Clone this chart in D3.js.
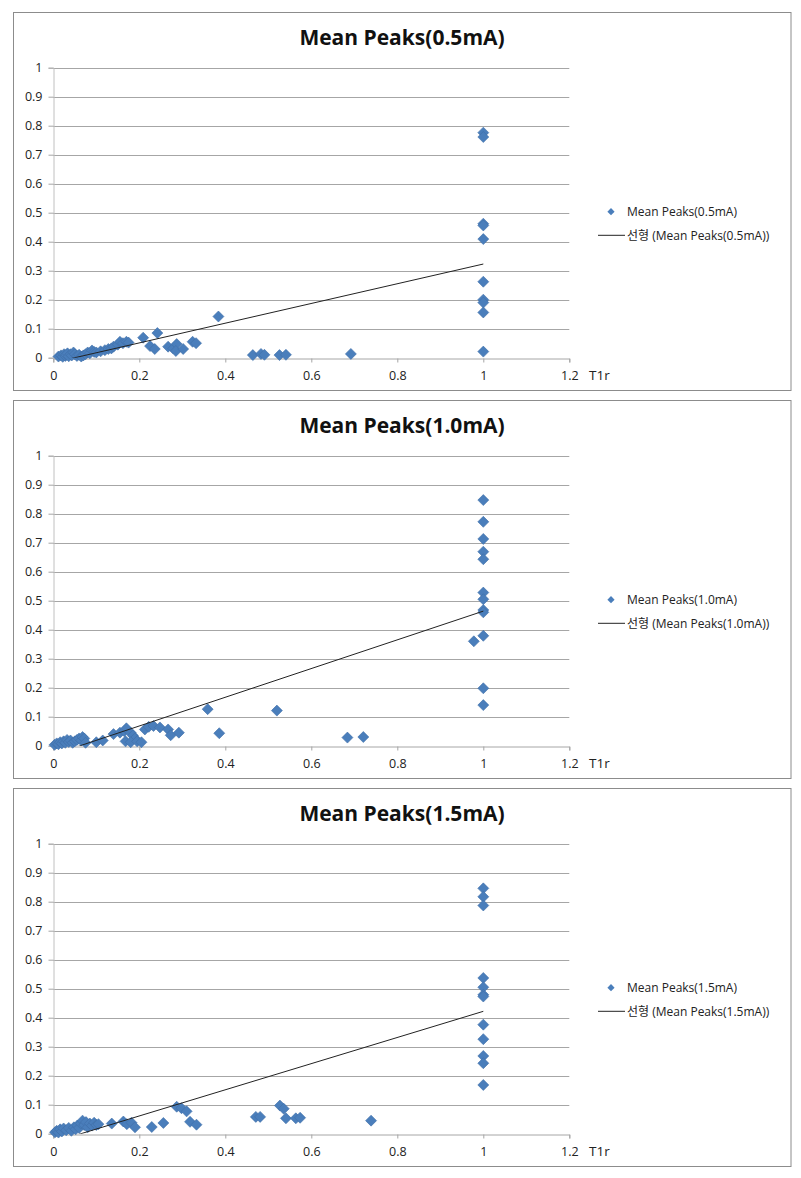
<!DOCTYPE html>
<html>
<head>
<meta charset="utf-8">
<script src="https://cdn.jsdelivr.net/npm/d3@7"></script>
<style>
  html, body { margin: 0; padding: 0; background: #fff; }
  svg { display: block; }
  text { font-family: "Open Sans", "Noto Sans CJK KR", sans-serif; }
</style>
</head>
<body>
<svg id="chart" width="801" height="1178"></svg>
<script>
// ---------- DATA ----------
const titles = ["Mean Peaks(0.5mA)", "Mean Peaks(1.0mA)", "Mean Peaks(1.5mA)"];
const trendLabels = ["선형 (Mean Peaks(0.5mA))", "선형 (Mean Peaks(1.0mA))", "선형 (Mean Peaks(1.5mA))"];
const xTicks = [0, 0.2, 0.4, 0.6, 0.8, 1, 1.2];
const yTicks = [0, 0.1, 0.2, 0.3, 0.4, 0.5, 0.6, 0.7, 0.8, 0.9, 1];
const xAxisLabel = "T1r";

// Mean Peaks(0.5mA): [T1r, mean peak]
const peaks05 = [
  [0.012,0.004],[0.018,0.008],[0.022,0.003],[0.025,0.012],[0.028,0.006],[0.030,0.010],
  [0.033,0.015],[0.036,0.005],[0.040,0.012],[0.043,0.008],[0.047,0.018],[0.050,0.012],
  [0.055,0.006],[0.060,0.010],[0.065,0.004],[0.070,0.008],[0.075,0.012],[0.080,0.018],
  [0.085,0.015],[0.090,0.025],[0.095,0.020],[0.100,0.018],[0.110,0.022],[0.120,0.026],
  [0.128,0.030],[0.135,0.032],[0.140,0.038],[0.150,0.045],[0.155,0.055],[0.162,0.050],
  [0.170,0.055],[0.175,0.052],[0.209,0.069],[0.225,0.040],[0.236,0.030],[0.242,0.085],
  [0.267,0.038],[0.279,0.032],[0.287,0.047],[0.285,0.023],[0.302,0.030],[0.324,0.055],
  [0.332,0.050],[0.384,0.142],[0.464,0.009],[0.483,0.013],[0.491,0.010],[0.526,0.009],
  [0.541,0.010],[0.692,0.013],
  [1,0.776],[1,0.761],[1,0.462],[1,0.456],[1,0.409],[1,0.262],[1,0.200],[1,0.190],
  [1,0.156],[1,0.021]
];
// Mean Peaks(1.0mA)
const peaks10 = [
  [0.003,0.003],[0.008,0.008],[0.012,0.005],[0.016,0.012],[0.020,0.008],[0.024,0.015],
  [0.028,0.010],[0.032,0.020],[0.036,0.013],[0.040,0.018],[0.045,0.010],[0.050,0.015],
  [0.055,0.020],[0.060,0.025],[0.065,0.018],[0.068,0.030],[0.072,0.025],[0.075,0.010],
  [0.100,0.012],[0.115,0.018],[0.140,0.040],[0.155,0.045],[0.165,0.050],[0.170,0.060],
  [0.168,0.015],[0.180,0.045],[0.185,0.035],[0.190,0.025],[0.180,0.012],[0.195,0.015],
  [0.205,0.012],[0.213,0.056],[0.222,0.065],[0.233,0.068],[0.248,0.063],[0.267,0.056],
  [0.273,0.036],[0.292,0.045],[0.359,0.126],[0.386,0.043],[0.520,0.121],[0.684,0.028],
  [0.721,0.030],[0.978,0.360],
  [1,0.847],[1,0.772],[1,0.713],[1,0.669],[1,0.643],[1,0.528],[1,0.505],[1,0.468],
  [1,0.460],[1,0.379],[1,0.198],[1,0.140]
];
// Mean Peaks(1.5mA)
const peaks15 = [
  [0.004,0.005],[0.008,0.010],[0.012,0.004],[0.016,0.015],[0.020,0.008],[0.024,0.018],
  [0.030,0.012],[0.036,0.020],[0.042,0.010],[0.048,0.022],[0.052,0.015],[0.056,0.028],
  [0.060,0.020],[0.064,0.035],[0.068,0.045],[0.072,0.030],[0.076,0.040],[0.080,0.022],
  [0.085,0.035],[0.090,0.028],[0.095,0.038],[0.100,0.030],[0.105,0.033],[0.136,0.035],
  [0.163,0.042],[0.171,0.033],[0.182,0.038],[0.190,0.022],[0.229,0.023],[0.256,0.037],
  [0.287,0.093],[0.298,0.088],[0.310,0.077],[0.318,0.041],[0.333,0.031],[0.471,0.058],
  [0.481,0.058],[0.527,0.097],[0.536,0.086],[0.541,0.053],[0.564,0.053],[0.574,0.055],
  [0.739,0.045],
  [1,0.846],[1,0.817],[1,0.787],[1,0.537],[1,0.505],[1,0.479],[1,0.473],[1,0.376],
  [1,0.326],[1,0.268],[1,0.243],[1,0.168]
];
// Linear trendlines: [slope, intercept]
const trend05 = [0.340, -0.017];
const trend10 = [0.495, -0.031];
const trend15 = [0.451, -0.029];

// ---------- LAYOUT ----------
const panels = [
  { title: titles[0], label: trendLabels[0], pts: peaks05, trend: trend05 },
  { title: titles[1], label: trendLabels[1], pts: peaks10, trend: trend10 },
  { title: titles[2], label: trendLabels[2], pts: peaks15, trend: trend15 }
];
const panelTop0 = 12, panelStep = 388, panelH = 378;
const panelLeft = 13.5, panelW = 777.5;
const plotLeft = 53.3, plotRight = 569.3;
const plotTopOff = 55.7, plotBotOff = 345.7;
const markerColor = "#4a7ebb";
const gridColor = "#a6a6a6";

const svg = d3.select("#chart");
const diamond = r => `M0,${-r}L${r},0L0,${r}L${-r},0Z`;

panels.forEach((p, i) => {
  const top = panelTop0 + i * panelStep;
  const g = svg.append("g");

  g.append("rect")
    .attr("x", panelLeft).attr("y", top + 0.5)
    .attr("width", panelW).attr("height", panelH)
    .attr("fill", "#fff").attr("stroke", "#8c8c8c").attr("stroke-width", 1);

  const x = d3.scaleLinear().domain([0, 1.2]).range([plotLeft, plotRight]);
  const y = d3.scaleLinear().domain([0, 1]).range([top + plotBotOff, top + plotTopOff]);

  // gridlines
  g.append("g").selectAll("line").data(yTicks.filter(v => v > 0)).join("line")
    .attr("x1", plotLeft).attr("x2", plotRight)
    .attr("y1", d => Math.round(y(d)) + 0.5).attr("y2", d => Math.round(y(d)) + 0.5)
    .attr("stroke", gridColor).attr("stroke-width", 1);

  // y axis
  const yAxis = d3.axisLeft(y).tickValues(yTicks).tickSize(5).tickPadding(6)
    .tickFormat(d => d3.format("")(+d.toFixed(1)));
  const ya = g.append("g").attr("transform", `translate(${Math.round(plotLeft) + 0.5},0)`).call(yAxis);
  ya.select(".domain").attr("stroke", "#c0c0c0");
  ya.selectAll(".tick line").attr("stroke", "#a6a6a6");
  ya.selectAll(".tick text").attr("font-size", 12.5).attr("fill", "#222")
    .attr("font-family", "'Open Sans', sans-serif");

  // x axis
  const xAxis = d3.axisBottom(x).tickValues(xTicks).tickSize(4).tickPadding(9)
    .tickFormat(d => d3.format("")(+d.toFixed(1)));
  const xa = g.append("g").attr("transform", `translate(0,${Math.round(y(0)) + 0.5})`).call(xAxis);
  xa.select(".domain").attr("stroke", "#a6a6a6");
  xa.selectAll(".tick line").attr("stroke", "#a6a6a6");
  xa.selectAll(".tick text").attr("font-size", 12.5).attr("fill", "#222")
    .attr("font-family", "'Open Sans', sans-serif");

  g.append("text").attr("x", 589).attr("y", top + 368)
    .attr("font-size", 13.5).attr("fill", "#222").text(xAxisLabel);

  // title
  g.append("text").attr("x", 402).attr("y", top + 33)
    .attr("text-anchor", "middle").attr("font-size", 21).attr("font-weight", "bold")
    .attr("fill", "#111").text(p.title);

  // clip for trendline
  const clipId = "clip" + i;
  g.append("clipPath").attr("id", clipId).append("rect")
    .attr("x", plotLeft).attr("y", y(1)).attr("width", plotRight - plotLeft).attr("height", y(0) - y(1));

  // markers
  g.append("g").selectAll("path").data(p.pts).join("path")
    .attr("transform", d => `translate(${x(d[0])},${y(d[1])})`)
    .attr("d", diamond(5.5))
    .attr("fill", markerColor).attr("stroke", "#3f6fa8").attr("stroke-width", 0.6);

  // trendline
  const xs = p.pts.map(d => d[0]);
  const x0 = d3.min(xs), x1 = d3.max(xs);
  const [m, b] = p.trend;
  g.append("line").attr("clip-path", `url(#${clipId})`)
    .attr("x1", x(x0)).attr("y1", y(m * x0 + b))
    .attr("x2", x(x1)).attr("y2", y(m * x1 + b))
    .attr("stroke", "#222").attr("stroke-width", 1);

  // legend
  const ly1 = top + 199.7, ly2 = top + 223.3;
  g.append("path").attr("transform", `translate(611,${ly1})`).attr("d", diamond(3.6))
    .attr("fill", markerColor);
  g.append("text").attr("x", 627).attr("y", ly1).attr("dy", "0.35em")
    .attr("font-size", 12).attr("fill", "#222").text(p.title);
  g.append("line").attr("x1", 598).attr("x2", 625).attr("y1", ly2).attr("y2", ly2)
    .attr("stroke", "#222").attr("stroke-width", 1);
  g.append("text").attr("x", 627).attr("y", ly2).attr("dy", "0.35em")
    .attr("font-size", 12).attr("fill", "#222").text(p.label);
});
</script>
</body>
</html>
